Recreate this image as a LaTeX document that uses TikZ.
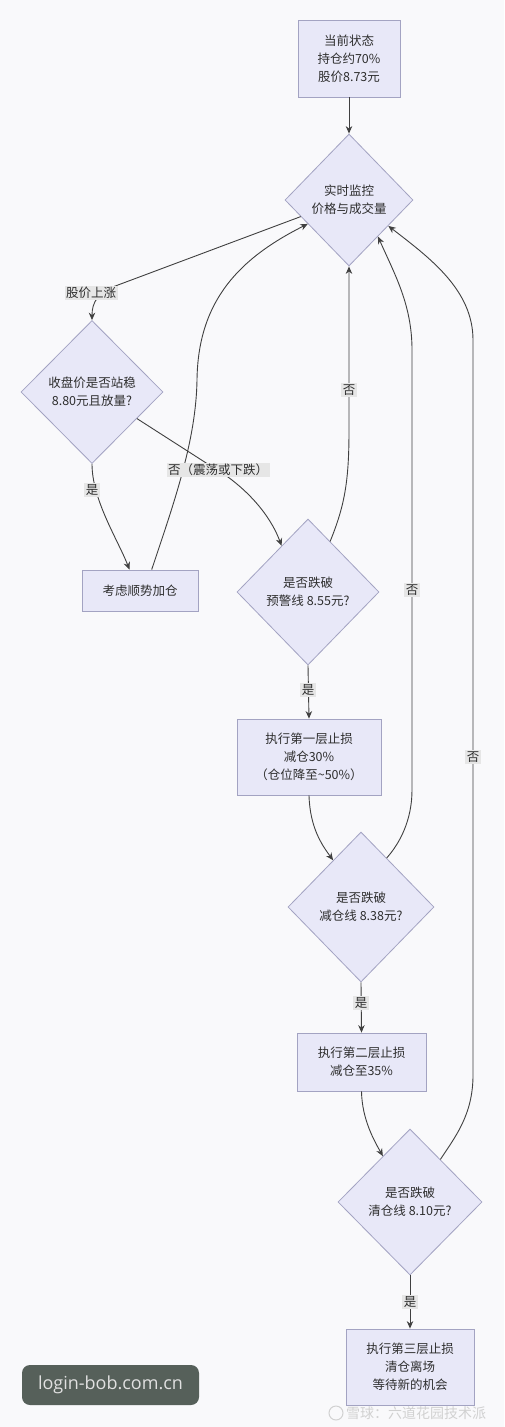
\documentclass[tikz,border=0pt]{standalone}
\usepackage{fontspec}
\newfontfamily\cjk{Noto Sans CJK SC}
\newfontfamily\wmfont{Open Sans}
\usetikzlibrary{shapes.geometric,calc,arrows.meta}
\definecolor{bgc}{HTML}{F9F9FB}
\definecolor{nfill}{HTML}{E8E8F8}
\definecolor{nstroke}{HTML}{A3A3C2}
\definecolor{lcol}{HTML}{404040}
\definecolor{lblfill}{HTML}{E6E6E6}
\definecolor{wmgreen}{HTML}{56605A}
\begin{document}
\begin{tikzpicture}[x=1pt,y=-1pt,
  every node/.style={font=\cjk\fontsize{12.5}{18}\selectfont, text=black!82},
  box/.style={draw=nstroke, fill=nfill, line width=0.8pt, rectangle, align=center, inner sep=0pt},
  dia/.style={draw=nstroke, fill=nfill, line width=0.8pt, diamond, align=center, inner sep=0pt},
  conn/.style={draw=lcol, line width=0.9pt, -{Stealth[length=7.5pt,width=6.5pt]}},
  lbl/.style={fill=lblfill, inner sep=1.5pt}
]
\fill[bgc] (0,0) rectangle (504,1427);
\useasboundingbox (0,0) rectangle (504,1427);

\node[box, minimum width=102pt, minimum height=77pt] (A) at (349,58.5) {当前状态\\持仓约70\%\\股价8.73元};
\node[dia, minimum width=128pt, minimum height=132pt] (B) at (349,200) {实时监控\\价格与成交量};
\node[dia, minimum width=142pt, minimum height=143pt] (C) at (92,392) {收盘价是否站稳\\8.80元且放量?};
\node[box, minimum width=116pt, minimum height=41pt] (D) at (140,590.5) {考虑顺势加仓};
\node[dia, minimum width=142pt, minimum height=146pt] (E) at (308,592) {是否跌破\\预警线 8.55元?};
\node[box, minimum width=144pt, minimum height=76pt] (F) at (309,757) {执行第一层止损\\减仓30\%\\（仓位降至\textasciitilde50\%）};
\node[dia, minimum width=146pt, minimum height=150pt] (G) at (361,907) {是否跌破\\减仓线 8.38元?};
\node[box, minimum width=129pt, minimum height=58pt] (H) at (361.5,1062) {执行第二层止损\\减仓至35\%};
\node[dia, minimum width=144pt, minimum height=146pt] (I) at (410,1202) {是否跌破\\清仓线 8.10元?};
\node[box, minimum width=128pt, minimum height=76pt] (J) at (410,1367) {执行第三层止损\\清仓离场\\等待新的机会};

% connectors
\draw[conn] (A.south) -- (B.north);
\draw[conn] ($(B.west)!0.25!(B.south)$) -- (118,285) .. controls (98,292) and (92,302) .. (C.north);
\draw[conn] (C.south) .. controls (92,500) and (118,540) .. ($(D.north west)!0.41!(D.north east)$);
\draw[conn] ($(C.east)!0.37!(C.south)$) -- (228,477) .. controls (255,497) and (272,520) .. ($(E.north)!0.37!(E.west)$);
\draw[conn] ($(D.north west)!0.6!(D.north east)$) .. controls (175,500) and (196,440) .. (197,380) .. controls (198,300) and (240,258) .. ($(B.west)!0.36!(B.south)$);
\draw[conn] ($(E.north)!0.31!(E.east)$) .. controls (345,505) and (349,480) .. (349,430) -- (B.south);
\draw[conn] (E.south) -- (F.north);
\draw[conn] (F.south) .. controls (310,828) and (322,845) .. ($(G.north)!0.38!(G.west)$);
\draw[conn] ($(G.north)!0.35!(G.east)$) .. controls (400,843) and (412,820) .. (412,790) -- (412,350) .. controls (412,305) and (395,275) .. ($(B.east)!0.55!(B.south)$);
\draw[conn] (G.south) -- (H.north);
\draw[conn] (H.south) .. controls (362,1120) and (375,1142) .. ($(I.north)!0.375!(I.west)$);
\draw[conn] ($(I.north)!0.42!(I.east)$) .. controls (455,1137) and (473,1115) .. (473,1075) -- (473,340) .. controls (473,290) and (430,258) .. ($(B.east)!0.39!(B.south)$);
\draw[conn] (I.south) -- (J.north);

% edge labels
\node[lbl] (l1) at (91,293) {股价上涨};
\node[lbl] (l2) at (92,490) {是};
\node[lbl] (l3) at (218,470) {否（震荡或下跌）};
\node[lbl] (l4) at (349,390) {否};
\node[lbl] (l5) at (308,690) {是};
\node[lbl] (l6) at (412,590) {否};
\node[lbl] (l7) at (361,1003) {是};
\node[lbl] (l8) at (473,757) {否};
\node[lbl] (l9) at (410,1302) {是};

% watermarks
\node[fill=wmgreen, rounded corners=8pt, minimum width=177pt, minimum height=40pt, inner sep=0pt,
      font=\wmfont\fontsize{18}{20}\selectfont, text=white!88!black] (wm) at (110.5,1385) {login-bob.com.cn};
\node[font=\cjk\fontsize{14}{16}\selectfont, text=black!18, inner sep=0pt] (wm2) at (416,1413) {雪球：六道花园技术派};
\draw[black!18, line width=1pt] (336,1413) circle (7pt);
\end{tikzpicture}
\end{document}
